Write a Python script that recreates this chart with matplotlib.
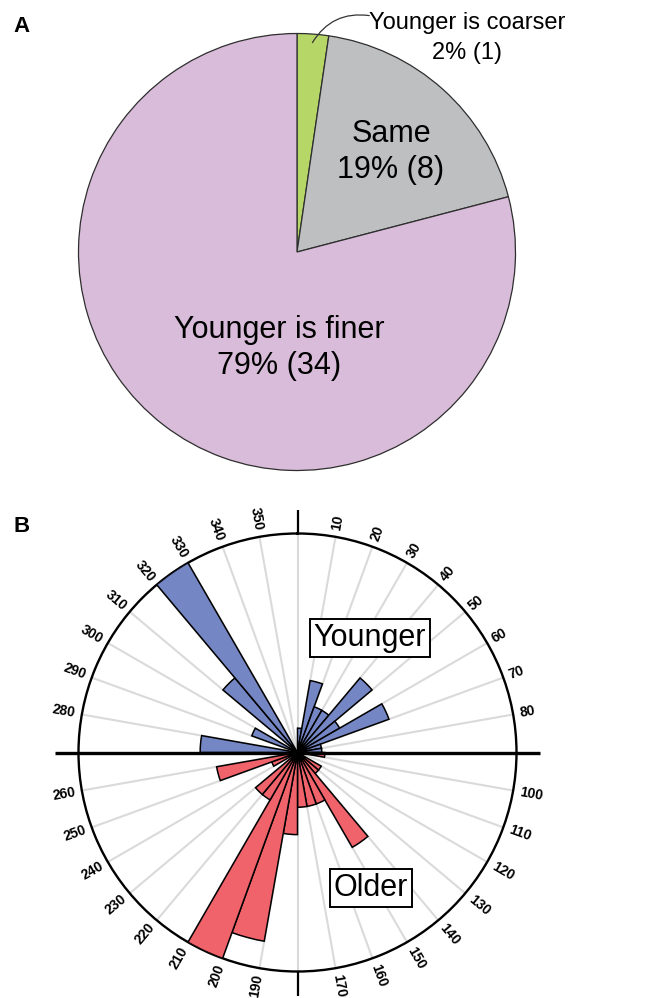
import numpy as np
import matplotlib
matplotlib.use("Agg")
import matplotlib.pyplot as plt

plt.rcParams['font.family'] = ['Liberation Sans', 'DejaVu Sans']

# ---- data -------------------------------------------------------------
pie_names = ["Younger is coarser", "Same", "Younger is finer"]
pie_counts = [1, 8, 34]
pie_colors = ["#b6d767", "#bebfc1", "#d8bcd9"]

# rose diagram: counts per 10-degree bin, bins starting at 0, 10, ..., 350
bin_starts = list(range(0, 360, 10))
younger_counts = [1, 3, 2, 2, 4, 2, 4, 1, 1,
                  0, 0, 0, 0, 0, 0, 0, 0, 0,
                  0, 0, 0, 0, 0, 0, 0, 0, 0,
                  4, 0, 2, 0, 4, 9, 0, 0, 0]
older_counts = [0, 0, 0, 0, 0, 0, 0, 0, 0,
                1, 0, 0, 1, 1, 4, 2, 2, 2,
                3, 7, 8, 2, 2, 0, 1, 3, 0,
                0, 0, 0, 0, 0, 0, 0, 0, 0]
direction_labels = [a for a in bin_starts if a % 90 != 0]

# ---- figure -----------------------------------------------------------
W, H = 648, 998
fig = plt.figure(figsize=(W / 100, H / 100), dpi=100)


def rect(cx, cy, r):
    """Axes rectangle (figure fraction) for a square of half-size r px centred at (cx, cy) px."""
    return [(cx - r) / W, 1 - (cy + r) / H, 2 * r / W, 2 * r / H]


# ---- panel A: pie -----------------------------------------------------
PCX, PCY, PR = 297, 252, 218.5
axp = fig.add_axes(rect(PCX, PCY, PR))
axp.pie(pie_counts, startangle=90, counterclock=False, colors=pie_colors,
        radius=1.0, wedgeprops=dict(edgecolor="#2e2e2e", linewidth=0.9))
axp.set_xlim(-1, 1)
axp.set_ylim(-1, 1)
axp.set_aspect("equal")
axp.axis("off")


def pd(px, py):
    return ((px - PCX) / PR, (PCY - py) / PR)


total = sum(pie_counts)
pie_text = [f"{n}\n{round(100 * c / total)}% ({c})" for n, c in zip(pie_names, pie_counts)]

# small slice: label outside with a curved leader
axp.text(*pd(467, 38), pie_text[0], ha="center", va="center", fontsize=17,
         linespacing=1.5, clip_on=False)
axp.annotate("", xy=pd(311, 45), xytext=pd(372, 16),
             arrowprops=dict(arrowstyle="-", color="#333333", lw=0.9,
                             connectionstyle="arc3,rad=0.35"),
             annotation_clip=False)
for txt, (px, py) in zip(pie_text[1:], [(391, 152), (279, 348)]):
    axp.text(*pd(px, py), txt, ha="center", va="center", fontsize=22,
             linespacing=1.27, clip_on=False)

fig.text(22 / W, 1 - 27 / H, "A", fontsize=16, fontweight="bold",
         ha="center", va="center")
fig.text(22 / W, 1 - 527 / H, "B", fontsize=16, fontweight="bold",
         ha="center", va="center")

# ---- panel B: rose diagram -------------------------------------------
RCX, RCY, RR = 297.5, 752.5, 219
ymax = max(younger_counts)
omax = max(older_counts)

axy = fig.add_axes(rect(RCX, RCY, RR), projection="polar")
axo = fig.add_axes(rect(RCX, RCY, RR), projection="polar")
for ax, rmax in ((axy, ymax), (axo, omax)):
    ax.set_theta_zero_location("N")
    ax.set_theta_direction(-1)
    ax.set_ylim(0, rmax)
    ax.grid(False)
    ax.set_xticks([])
    ax.set_yticks([])
axo.patch.set_visible(False)
axo.spines["polar"].set_visible(False)
axy.spines["polar"].set_linewidth(1.7)
axy.spines["polar"].set_color("black")

# radial guide lines every 10 degrees
for a in bin_starts:
    t = np.deg2rad(a)
    axy.plot([t, t], [0, ymax], color="#dadada", lw=1.5, zorder=1)

width = np.deg2rad(10)
yb = [(np.deg2rad(a + 5), c) for a, c in zip(bin_starts, younger_counts) if c > 0]
ob = [(np.deg2rad(a + 5), c) for a, c in zip(bin_starts, older_counts) if c > 0]
axy.bar([t for t, _ in yb], [c for _, c in yb], width=width, bottom=0,
        color="#7586c4", edgecolor="black", linewidth=1.1, zorder=3)
axo.bar([t for t, _ in ob], [c for _, c in ob], width=width, bottom=0,
        color="#f0636b", edgecolor="black", linewidth=1.1, zorder=3)

# axis lines: horizontal through the centre, short vertical ticks outside
ext = omax * 1.107
axo.plot([np.pi / 2, np.pi / 2], [0, ext], color="black", lw=2.4,
         clip_on=False, zorder=5, solid_capstyle="butt")
axo.plot([3 * np.pi / 2, 3 * np.pi / 2], [0, ext], color="black", lw=2.4,
         clip_on=False, zorder=5, solid_capstyle="butt")
axo.plot([0, 0], [omax, ext], color="black", lw=1.6, clip_on=False,
         zorder=5, solid_capstyle="butt")
axo.plot([np.pi, np.pi], [omax, omax * 1.11], color="black", lw=1.6,
         clip_on=False, zorder=5, solid_capstyle="butt")

# direction labels
for a in direction_labels:
    m = 90 - a
    if a < 180:
        rot, ha = m, "left"
    else:
        rot, ha = m + 180, "right"
    axy.text(np.deg2rad(a), ymax * 1.03, str(a), rotation=rot,
             rotation_mode="anchor", ha=ha, va="center", fontsize=10,
             fontweight="bold", clip_on=False)

box = dict(boxstyle="square,pad=0.12", facecolor="white", edgecolor="black",
           linewidth=1.4)
fig.text(370 / W, 1 - 638 / H, "Younger", fontsize=22, ha="center",
         va="center", bbox=box, zorder=10)
fig.text(371 / W, 1 - 888 / H, "Older", fontsize=22, ha="center",
         va="center", bbox=box, zorder=10)

fig.savefig("out.png", dpi=100)
